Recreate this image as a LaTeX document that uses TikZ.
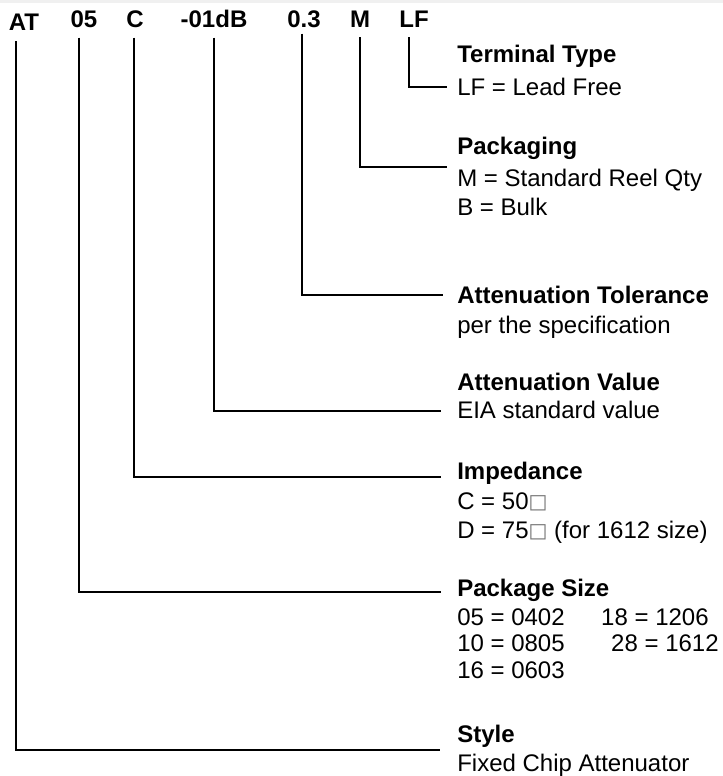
\documentclass[tikz,border=0pt]{standalone}
\usepackage{fontspec}
\setmainfont{Liberation Sans}
\newfontfamily\boxfont{DejaVu Sans}
\usetikzlibrary{calc,positioning}

\newcommand{\ohmbox}{\raisebox{0.8pt}{\boxfont\fontsize{15}{15}\selectfont\textcolor{black!55}{□}}}

\begin{document}
\begin{tikzpicture}[
  x=0.75pt, y=-0.75pt,
  code/.style={inner sep=0pt, anchor=base, font=\bfseries\fontsize{18}{21}\selectfont},
  title/.style={inner sep=0pt, anchor=base west, font=\bfseries\fontsize{18}{21}\selectfont},
  desc/.style={inner sep=0pt, anchor=base west, align=left, font=\fontsize{18}{22}\selectfont},
  lead/.style={line width=1.5pt}
]
  \useasboundingbox (0,0) rectangle (723,776);
  \fill[black!6] (0,0) rectangle (723,3);

  % part number
  \node[code] (at) at (24,30) {AT};
  \node[code] (size) at (84,27) {05};
  \node[code] (imp) at (135,27) {C};
  \node[code] (val) at (214,27) {-01dB};
  \node[code] (tol) at (304,27) {0.3};
  \node[code] (pack) at (360,27) {M};
  \node[code] (term) at (414,27) {LF};

  % descriptions (multi-line nodes sit on their last line)
  \node[title] (termt) at (457,62.5) {Terminal Type};
  \node[desc] (termd) at (457,95.5) {LF = Lead Free};
  \node[title] (packt) at (457,154) {Packaging};
  \node[desc] (packd) at (457,215.5) {M = Standard Reel Qty\\B = Bulk};
  \node[title] (tolt) at (457,303.5) {Attenuation Tolerance};
  \node[desc] (told) at (457,333.5) {per the specification};
  \node[title] (valt) at (457,390.5) {Attenuation Value};
  \node[desc] (vald) at (457,418.5) {EIA standard value};
  \node[title] (impt) at (457,479.5) {Impedance};
  \node[desc] (impd) at (457,538.5) {C = 50\ohmbox\\D = 75\ohmbox{} (for 1612 size)};
  \node[title] (sizet) at (457,596.5) {Package Size};
  \node[desc, font=\fontsize{18}{20}\selectfont] (sized) at (457,678.5)
    {\makebox[108pt][l]{05 = 0402}18 = 1206\\\makebox[115.5pt][l]{10 = 0805}28 = 1612\\16 = 0603};
  \node[title] (stylet) at (457,742.5) {Style};
  \node[desc] (styled) at (457,771) {Fixed Chip Attenuator};

  % line ends
  \coordinate (termend) at (447,87);
  \coordinate (packend) at (447,167);
  \coordinate (tolend) at (443,295);
  \coordinate (valend) at (441,411);
  \coordinate (impend) at (441,477);
  \coordinate (sizeend) at (441,592);
  \coordinate (styleend) at (440,750);

  \draw[lead] ([xshift=-3.75pt,yshift=-7.5pt]term.south) |- (termend);
  \draw[lead] ([yshift=-7.5pt]pack.south) |- (packend);
  \draw[lead] ([xshift=-1.5pt,yshift=-4.5pt]tol.south) |- (tolend);
  \draw[lead] ([yshift=-7.5pt]val.south) |- (valend);
  \draw[lead] ([xshift=-0.75pt,yshift=-7.5pt]imp.south) |- (impend);
  \draw[lead] ([xshift=-3.75pt,yshift=-7.5pt]size.south) |- (sizeend);
  \draw[lead] ([xshift=-6pt,yshift=-8.25pt]at.south) |- (styleend);
\end{tikzpicture}
\end{document}
